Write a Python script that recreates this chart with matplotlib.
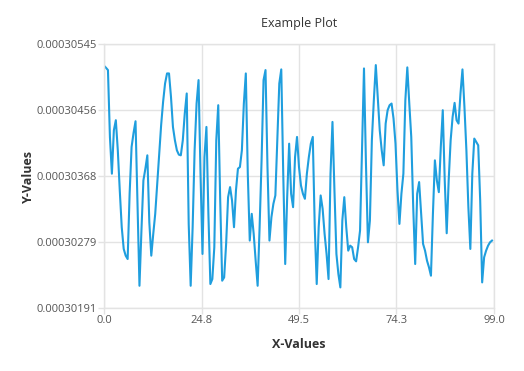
import numpy as np
import matplotlib
matplotlib.use("Agg")
import matplotlib.pyplot as plt

# ── data ─────────────────────────────────────────────────────────────────────

x_values = np.arange(0, 99, 0.5)

y_values = [
    0.000305159, 0.000305132, 0.000305101, 0.000304206, 0.000303714,
    0.000304295, 0.000304430, 0.000304027, 0.000303490, 0.000302998,
    0.000302707, 0.000302617, 0.000302572, 0.000303445, 0.000304072,
    0.000304260, 0.000304416, 0.000303311, 0.000302214, 0.000302953,
    0.000303624, 0.000303781, 0.000303960, 0.000303065, 0.000302617,
    0.000302908, 0.000303177, 0.000303579, 0.000303982, 0.000304363,
    0.000304676, 0.000304922, 0.000305056, 0.000305056, 0.000304743,
    0.000304340, 0.000304161, 0.000304027, 0.000303969, 0.000303960,
    0.000304161, 0.000304519, 0.000304788, 0.000303042, 0.000302214,
    0.000302998, 0.000304027, 0.000304653, 0.000304967, 0.000303714,
    0.000302640, 0.000303937, 0.000304340, 0.000303177, 0.000302237,
    0.000302304, 0.000302729, 0.000304161, 0.000304631, 0.000303356,
    0.000302282, 0.000302326, 0.000302774, 0.000303400, 0.000303535,
    0.000303356, 0.000302998, 0.000303490, 0.000303781, 0.000303803,
    0.000304027, 0.000304653, 0.000305056, 0.000303714, 0.000302819,
    0.000303177, 0.000302908, 0.000302550, 0.000302214, 0.000302998,
    0.000303893, 0.000304967, 0.000305101, 0.000303803, 0.000302819,
    0.000303132, 0.000303311, 0.000303423, 0.000304161, 0.000304922,
    0.000305110, 0.000303714, 0.000302505, 0.000303400, 0.000304116,
    0.000303445, 0.000303266, 0.000303937, 0.000304206, 0.000303803,
    0.000303557, 0.000303445, 0.000303378, 0.000303714, 0.000303937,
    0.000304116, 0.000304206, 0.000302998, 0.000302237, 0.000302998,
    0.000303423, 0.000303244, 0.000302908, 0.000302640, 0.000302304,
    0.000303714, 0.000304407, 0.000303490, 0.000302640, 0.000302371,
    0.000302192, 0.000303087, 0.000303400, 0.000302998, 0.000302684,
    0.000302751, 0.000302729, 0.000302572, 0.000302541, 0.000302729,
    0.000302953, 0.000304027, 0.000305123, 0.000303848, 0.000302796,
    0.000303087, 0.000304161, 0.000304698, 0.000305168, 0.000304721,
    0.000304295, 0.000304027, 0.000303826, 0.000304385, 0.000304564,
    0.000304631, 0.000304653, 0.000304452, 0.000304116, 0.000303490,
    0.000303042, 0.000303445, 0.000303714, 0.000304698, 0.000305137,
    0.000304653, 0.000304206, 0.000303266, 0.000302505, 0.000303445,
    0.000303602, 0.000303177, 0.000302774, 0.000302684, 0.000302550,
    0.000302461, 0.000302349, 0.000303177, 0.000303893, 0.000303624,
    0.000303467, 0.000304072, 0.000304564, 0.000303624, 0.000302917,
    0.000303624, 0.000304161, 0.000304474, 0.000304662, 0.000304430,
    0.000304385, 0.000304788, 0.000305110, 0.000304609, 0.000304027,
    0.000303266, 0.000302707, 0.000303714, 0.000304184, 0.000304139,
    0.000304094, 0.000303356, 0.000302259, 0.000302595, 0.000302684,
    0.000302751, 0.000302796, 0.000302819,
]

x_ticks = [0.0, 24.75, 49.5, 74.25, 99.0]
x_tick_labels = ["0.0", "24.8", "49.5", "74.3", "99.0"]
y_ticks = [0.00030191, 0.000302795, 0.00030368, 0.000304565, 0.00030545]
y_tick_labels = ["0.00030191", "0.00030279", "0.00030368", "0.00030456", "0.00030545"]

# ── plot ─────────────────────────────────────────────────────────────────────

plt.rcParams["font.family"] = ["Open Sans", "DejaVu Sans"]

GRID = "#e3e3e3"
TEXT = "#555555"

fig = plt.figure(figsize=(5.24, 3.71), dpi=100)
ax = fig.add_axes([0.1985, 0.1685, 0.7442, 0.7129])

ax.plot(x_values, y_values, color="#1f9ede", linewidth=1.5)

ax.set_xlim(x_ticks[0], x_ticks[-1])
ax.set_ylim(y_ticks[0], y_ticks[-1])
ax.set_xticks(x_ticks, x_tick_labels)
ax.set_yticks(y_ticks, y_tick_labels)

ax.grid(True, color=GRID, linewidth=1)
for side in ax.spines.values():
    side.set_color(GRID)
    side.set_linewidth(1)
ax.tick_params(axis="both", colors=GRID, labelcolor=TEXT, labelsize=8,
               length=4, width=1, pad=1)

ax.set_title("Example Plot", fontsize=9, color="#333333", pad=12)
ax.set_xlabel("X-Values", fontsize=9, fontweight="bold", color="#333333", labelpad=8)
ax.set_ylabel("Y-Values", fontsize=9, fontweight="bold", color="#333333", labelpad=1)

fig.savefig("out.png", dpi=100)
